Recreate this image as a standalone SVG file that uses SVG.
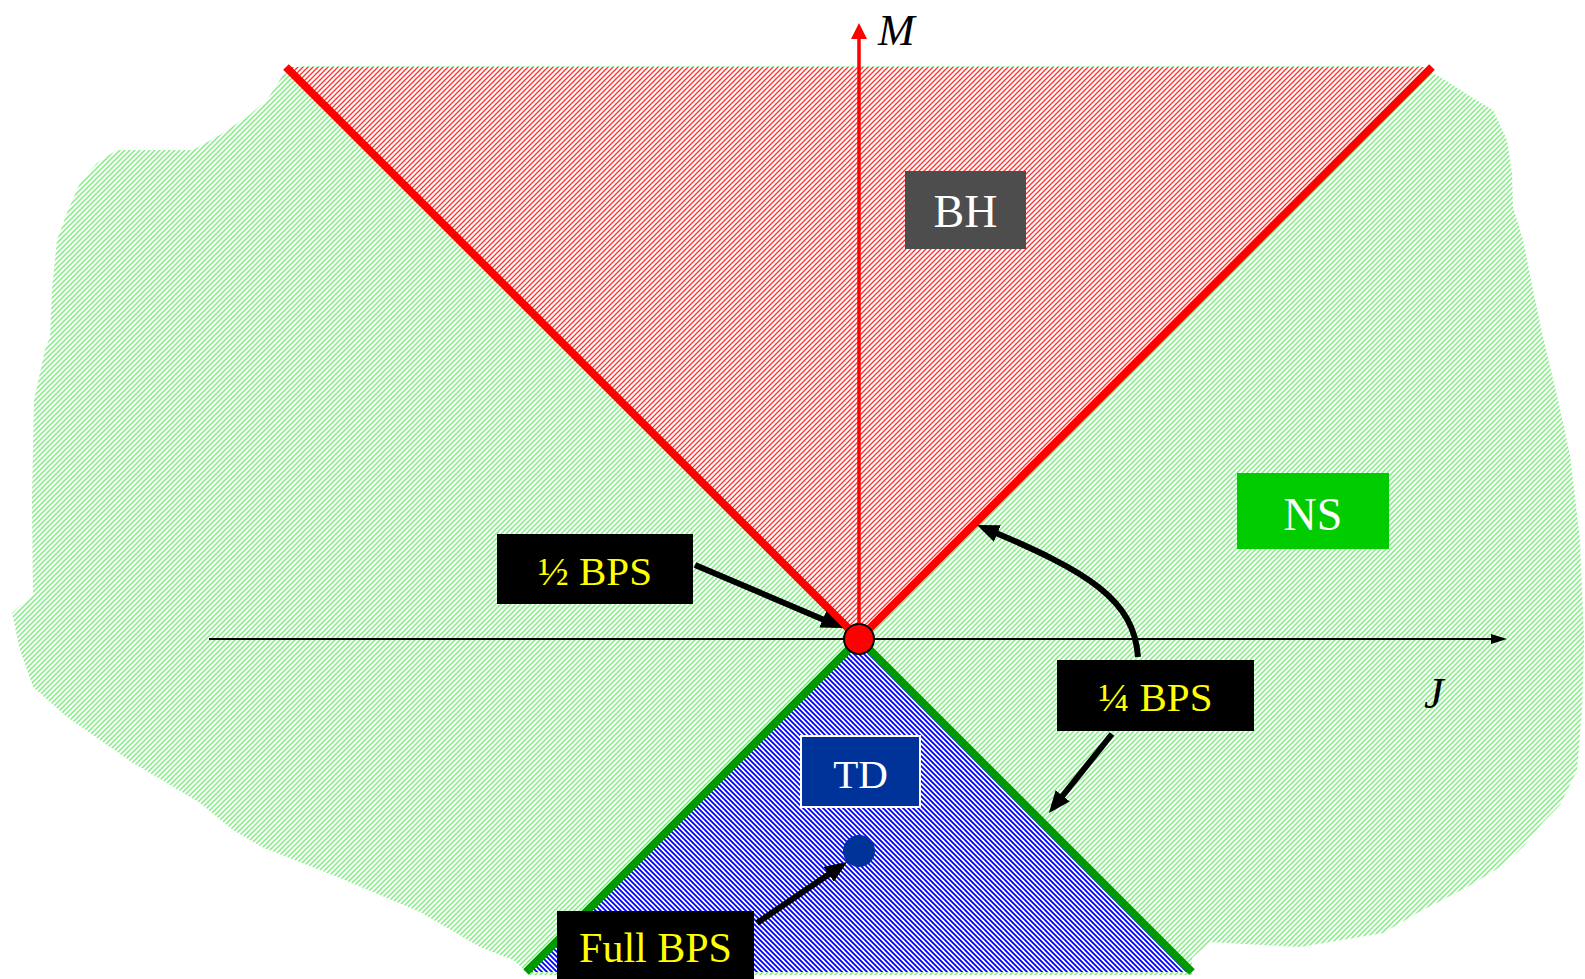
<svg xmlns="http://www.w3.org/2000/svg" width="1585" height="979" viewBox="0 0 1585 979">
  <style>
    .lbl { font-family: "Liberation Serif", "Times New Roman", serif; text-anchor: middle; }
    .w { fill: #ffffff; font-size: 46px; }
    .y { fill: #ffff00; font-size: 41px; }
    .ax { font-family: "Liberation Serif", "Times New Roman", serif; font-style: italic; font-size: 44px; fill: #000; }
    .ptr { fill: none; stroke: #000; stroke-width: 6; marker-end: url(#head); }
  </style>
  <defs>
    <pattern id="hatchGreen" patternUnits="userSpaceOnUse" width="5" height="5">
      <rect width="5" height="5" fill="#ffffff"/>
      <path d="M-1,1 L1,-1 M0,5 L5,0 M4,6 L6,4" stroke="#80ee80" stroke-width="1.5"/>
    </pattern>
    <pattern id="hatchRed" patternUnits="userSpaceOnUse" width="5" height="5">
      <rect width="5" height="5" fill="#ffffff"/>
      <path d="M-1,1 L1,-1 M0,5 L5,0 M4,6 L6,4" stroke="#ff3030" stroke-width="1.3"/>
    </pattern>
    <pattern id="hatchBlue" patternUnits="userSpaceOnUse" width="5" height="5">
      <rect width="5" height="5" fill="#ffffff"/>
      <path d="M-1,4 L1,6 M0,0 L5,5 M4,-1 L6,1" stroke="#0000ff" stroke-width="1.8"/>
    </pattern>
    <marker id="head" viewBox="0 0 22 18" markerWidth="22" markerHeight="18" refX="15" refY="9" orient="auto" markerUnits="userSpaceOnUse">
      <path d="M0,0 L22,9 L0,18 Z" fill="#000"/>
    </marker>
    <marker id="headRed" viewBox="0 0 16 16" markerWidth="16" markerHeight="16" refX="2" refY="8" orient="auto" markerUnits="userSpaceOnUse">
      <path d="M0,0 L16,8 L0,16 Z" fill="#ff0000"/>
    </marker>
    <marker id="headBlack" viewBox="0 0 16 10" markerWidth="16" markerHeight="10" refX="2" refY="5" orient="auto" markerUnits="userSpaceOnUse">
      <path d="M0,0 L16,5 L0,10 Z" fill="#000"/>
    </marker>
  </defs>

  <!-- outer region (NS) -->
  <g id="region-ns">
    <path fill="url(#hatchGreen)" d="M283,75 L300,66 L1420,66 L1440,77 L1473,98 L1493,110 L1507,140 L1512,173 L1513,207 L1523,240 L1533,290 L1543,337 L1558,400 L1570,455 L1580,540 L1584,640 L1582,710 L1577,770 L1560,805 L1543,822 L1523,847 L1500,867 L1467,887 L1417,913 L1383,933 L1300,947 L1210,942 L1192,958 L1192,975 L527,975 L527,972 L513,960 L480,947 L420,912 L340,878 L262,847 L233,830 L200,803 L167,783 L133,763 L100,740 L67,717 L33,687 L20,650 L12,613 L33,595 L32,500 L34,400 L45,350 L50,337 L52,290 L57,240 L67,213 L80,183 L97,163 L117,150 L193,150 L220,135 L247,117 L267,100 Z"/>
  </g>

  <!-- black hole cone -->
  <g id="region-bh">
    <polygon points="286,67 1432,67 859,639" fill="url(#hatchRed)"/>
  </g>

  <!-- TD cone -->
  <g id="region-td">
    <polygon points="859,639 1192,972 526,972" fill="url(#hatchBlue)"/>
  </g>

  <!-- axes and boundary lines -->
  <g id="axes">
    <line x1="209" y1="639" x2="1493" y2="639" stroke="#000" stroke-width="2" marker-end="url(#headBlack)"/>
    <line x1="286" y1="67" x2="859" y2="639" stroke="#ff0000" stroke-width="8"/>
    <line x1="1432" y1="67" x2="859" y2="639" stroke="#ff0000" stroke-width="8"/>
    <line x1="859" y1="639" x2="526" y2="972" stroke="#009900" stroke-width="8"/>
    <line x1="859" y1="639" x2="1192" y2="972" stroke="#009900" stroke-width="8"/>
    <line x1="859" y1="639" x2="859" y2="37" stroke="#ff0000" stroke-width="3.5" marker-end="url(#headRed)"/>
    <text class="ax" x="878" y="45">M</text>
    <text class="ax" x="1424" y="708">J</text>
  </g>

  <g id="origin">
    <circle cx="859" cy="639" r="15" fill="#ff0000" stroke="#000" stroke-width="2"/>
  </g>
  <g id="full-bps-point">
    <circle cx="859" cy="851" r="16" fill="#003399"/>
  </g>

  <!-- region labels -->
  <g id="label-bh">
    <rect x="905" y="171" width="121" height="78" fill="#4d4d4d"/>
    <text class="lbl w" x="965.5" y="227">BH</text>
  </g>
  <g id="label-ns">
    <rect x="1237" y="473" width="152" height="76" fill="#00cc00"/>
    <text class="lbl w" x="1313" y="530">NS</text>
  </g>
  <g id="label-td">
    <rect x="801" y="736" width="119" height="71" fill="#003399" stroke="#ffffff" stroke-width="2"/>
    <text class="lbl w" x="860.5" y="788" style="font-size:41px">TD</text>
  </g>
  <g id="label-half">
    <rect x="497" y="534" width="196" height="70" fill="#000"/>
    <text class="lbl y" x="595" y="585">½ BPS</text>
  </g>
  <g id="label-quarter">
    <rect x="1057" y="660" width="197" height="71" fill="#000"/>
    <text class="lbl y" x="1155.5" y="711">¼ BPS</text>
  </g>
  <g id="label-full">
    <rect x="557" y="911" width="197" height="70" fill="#000"/>
    <text class="lbl y" x="655.5" y="962" style="font-size:42px">Full BPS</text>
  </g>

  <!-- pointers from labels -->
  <g id="connectors">
    <line class="ptr" x1="695" y1="565" x2="836.6" y2="625.2"/>
    <path class="ptr" d="M1138,657 C1134,600 1090,572 983.5,527.7"/>
    <line class="ptr" x1="1112" y1="734" x2="1053.3" y2="807.5"/>
    <line class="ptr" x1="757" y1="923" x2="841.2" y2="865.9"/>
  </g>
</svg>
